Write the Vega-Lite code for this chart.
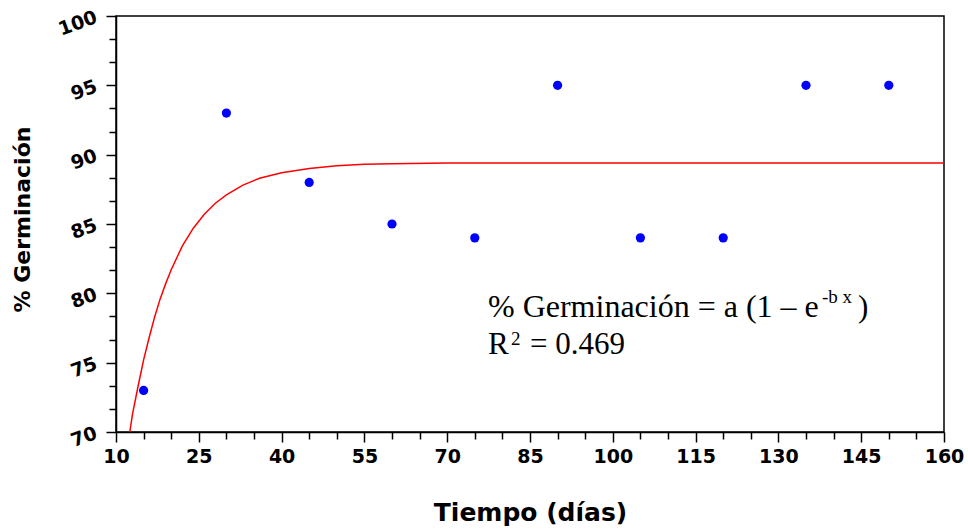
{
  "$schema": "https://vega.github.io/schema/vega-lite/v6.json",
  "width": 828,
  "height": 416,
  "autosize": {"type": "none"},
  "padding": {"left": 116, "top": 16, "right": 24, "bottom": 97},
  "background": "white",
  "config": {
    "view": {"stroke": "black", "strokeWidth": 1.5}
  },
  "resolve": {"axis": {"x": "independent", "y": "independent"}},
  "datasets": {
    "points": [
      {"dias": 15, "germ": 73}, {"dias": 30, "germ": 93}, {"dias": 45, "germ": 88},
      {"dias": 60, "germ": 85}, {"dias": 75, "germ": 84}, {"dias": 90, "germ": 95},
      {"dias": 105, "germ": 84}, {"dias": 120, "germ": 84}, {"dias": 135, "germ": 95},
      {"dias": 150, "germ": 95}
    ],
    "curve": [
      {"dias": 12.5, "germ": 70.0}, {"dias": 13, "germ": 71.3}, {"dias": 14, "germ": 73.3},
      {"dias": 15, "germ": 75.2}, {"dias": 16, "germ": 76.8}, {"dias": 17, "germ": 78.3},
      {"dias": 18, "germ": 79.6}, {"dias": 19, "germ": 80.7}, {"dias": 20, "germ": 81.7},
      {"dias": 22, "germ": 83.4}, {"dias": 24, "germ": 84.7}, {"dias": 26, "germ": 85.7},
      {"dias": 28, "germ": 86.5}, {"dias": 30, "germ": 87.1}, {"dias": 33, "germ": 87.8},
      {"dias": 36, "germ": 88.3}, {"dias": 40, "germ": 88.7}, {"dias": 45, "germ": 89.0},
      {"dias": 50, "germ": 89.2}, {"dias": 55, "germ": 89.3}, {"dias": 60, "germ": 89.35},
      {"dias": 70, "germ": 89.4}, {"dias": 160, "germ": 89.4}
    ],
    "line1Text": [
      {"tx": 77.39, "ty": 78.29, "t": "% Germinación = a (1 – e"}
    ],
    "mainText": [
      {"tx": 144.4, "ty": 78.29, "t": ")"},
      {"tx": 77.39, "ty": 75.63, "t": "R"},
      {"tx": 85.0, "ty": 75.63, "t": "= 0.469"}
    ],
    "supText": [
      {"tx": 137.9, "ty": 79.3, "t": "-b x"},
      {"tx": 81.56, "ty": 76.27, "t": "2"}
    ]
  },
  "layer": [
    {
      "data": {"name": "curve"},
      "mark": {"type": "line", "color": "#ff0000", "strokeWidth": 1.5, "clip": true},
      "encoding": {
        "x": {
          "field": "dias", "type": "quantitative",
          "scale": {"domain": [10, 160], "nice": false, "zero": false},
          "axis": {
            "title": "Tiempo (días)",
            "titleFont": "DejaVu Sans", "titleFontWeight": "bold", "titleFontSize": 25, "titleColor": "black",
            "titleX": 414, "titleY": 88, "titleBaseline": "alphabetic", "titleAlign": "center",
            "values": [10, 25, 40, 55, 70, 85, 100, 115, 130, 145, 160],
            "labelOverlap": false, "labelFlush": false,
            "labelFont": "DejaVu Sans", "labelFontWeight": "bold", "labelFontSize": 19, "labelColor": "black",
            "labelPadding": 5,
            "grid": false, "domainColor": "black", "domainWidth": 1.5, "tickColor": "black", "tickWidth": 1.5,
            "tickSize": 10
          }
        },
        "y": {
          "field": "germ", "type": "quantitative",
          "scale": {"domain": [70, 100], "nice": false, "zero": false},
          "axis": {
            "title": "% Germinación",
            "titleFont": "DejaVu Sans", "titleFontWeight": "bold", "titleFontSize": 22, "titleColor": "black",
            "titleX": -94, "titleY": 203, "titleAngle": -90, "titleBaseline": "middle", "titleAlign": "center",
            "values": [70, 75, 80, 85, 90, 95, 100],
            "labelOverlap": false, "labelFlush": false,
            "labelFont": "DejaVu Sans", "labelFontWeight": "bold", "labelFontSize": 19, "labelColor": "black",
            "labelAngle": -20, "labelPadding": 10,
            "grid": false, "domainColor": "black", "domainWidth": 1.5, "tickColor": "black", "tickWidth": 1.5,
            "tickSize": 10
          }
        }
      }
    },
    {
      "data": {"name": "points"},
      "mark": {"type": "point", "filled": true, "color": "#0000ff", "size": 85, "opacity": 1},
      "encoding": {
        "x": {
          "field": "dias", "type": "quantitative",
          "axis": {
            "orient": "bottom", "title": null, "labels": false, "domain": false, "grid": false,
            "values": [15, 20, 30, 35, 45, 50, 60, 65, 75, 80, 90, 95, 105, 110, 120, 125, 135, 140, 150, 155],
            "tickColor": "black", "tickWidth": 1.5, "tickSize": 7
          }
        },
        "y": {
          "field": "germ", "type": "quantitative",
          "axis": {
            "orient": "left", "title": null, "labels": false, "domain": false, "grid": false,
            "values": [71.6667, 73.3333, 76.6667, 78.3333, 81.6667, 83.3333, 86.6667, 88.3333, 91.6667, 93.3333, 96.6667, 98.3333],
            "tickColor": "black", "tickWidth": 1.5, "tickSize": 7
          }
        }
      }
    },
    {
      "data": {"name": "line1Text"},
      "mark": {"type": "text", "font": "Liberation Serif", "fontSize": 32, "align": "left", "baseline": "alphabetic", "color": "black"},
      "encoding": {
        "x": {"field": "tx", "type": "quantitative", "axis": null},
        "y": {"field": "ty", "type": "quantitative", "axis": null},
        "text": {"field": "t"}
      }
    },
    {
      "data": {"name": "mainText"},
      "mark": {"type": "text", "font": "Liberation Serif", "fontSize": 31, "align": "left", "baseline": "alphabetic", "color": "black"},
      "encoding": {
        "x": {"field": "tx", "type": "quantitative", "axis": null},
        "y": {"field": "ty", "type": "quantitative", "axis": null},
        "text": {"field": "t"}
      }
    },
    {
      "data": {"name": "supText"},
      "mark": {"type": "text", "font": "Liberation Serif", "fontSize": 19, "align": "left", "baseline": "alphabetic", "color": "black"},
      "encoding": {
        "x": {"field": "tx", "type": "quantitative", "axis": null},
        "y": {"field": "ty", "type": "quantitative", "axis": null},
        "text": {"field": "t"}
      }
    }
  ]
}
